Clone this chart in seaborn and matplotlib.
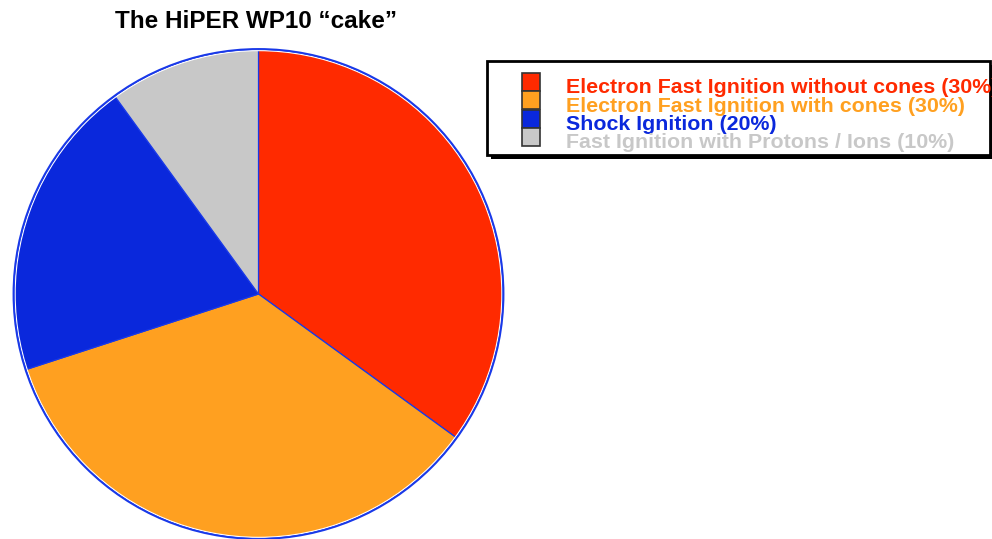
import matplotlib
matplotlib.use("Agg")
import matplotlib.pyplot as plt
import seaborn as sns
from matplotlib.patches import Rectangle, Circle
from matplotlib import font_manager

sns.set_theme(style="white")
plt.rcParams['font.family'] = ['Liberation Sans', 'DejaVu Sans']

bold_file = None
for f in font_manager.fontManager.ttflist:
    if f.name == "Liberation Sans" and f.weight in (700, "bold") and f.style == "normal":
        bold_file = f.fname
        break
if bold_file:
    def fp(size):
        return font_manager.FontProperties(fname=bold_file, size=size)
else:
    def fp(size):
        return font_manager.FontProperties(family="Liberation Sans", weight="bold", size=size)

title = "The HiPER WP10 \u201ccake\u201d"
categories = [
    "Electron Fast Ignition without cones (30%)",
    "Electron Fast Ignition with cones (30%)",
    "Shock Ignition (20%)",
    "Fast Ignition with Protons / Ions (10%)",
]
shares = [35, 35, 20, 10]
colors = ["#ff2a00", "#ffa020", "#0a28dc", "#c8c8c8"]

W, H = 992, 539
fig = plt.figure(figsize=(W / 100, H / 100), dpi=100)
fig.patch.set_facecolor("white")

# pie axes: center (258.5, 294) px, radius 246.5 px
cx, cy, r = 258.5, 294.0, 246.5
ax = fig.add_axes([(cx - r) / W, (H - cy - r) / H, 2 * r / W, 2 * r / H])
ax.pie(shares, colors=colors, startangle=90, counterclock=False, radius=1.0,
       wedgeprops=dict(edgecolor="#1838e8", linewidth=0.9))
ax.add_patch(Circle((0, 0), 0.997, fill=False, edgecolor="white", linewidth=0.8))
ax.add_patch(Circle((0, 0), 1.004, fill=False, edgecolor="#1838e8", linewidth=1.3))
ax.set_xlim(-1.01, 1.01)
ax.set_ylim(-1.01, 1.01)
ax.set_aspect("auto")
ax.axis("off")

# overlay axes in pixel coordinates
ov = fig.add_axes([0, 0, 1, 1], zorder=5)
ov.set_xlim(0, W)
ov.set_ylim(H, 0)
ov.axis("off")
ov.patch.set_alpha(0)

ov.text(256, 21, title, ha="center", va="center", fontproperties=fp(17.5),
        color="black")

# legend box with shadow
ov.add_patch(Rectangle((491, 65), 503, 94, facecolor="black", edgecolor="none", zorder=1))
ov.add_patch(Rectangle((487, 61), 503, 94, facecolor="white", edgecolor="black",
                       linewidth=2, zorder=2))

for i, (lab, col) in enumerate(zip(categories, colors)):
    y0 = 72.5 + i * 18.5
    ov.add_patch(Rectangle((522, y0), 18, 18, facecolor=col, edgecolor="#333333",
                           linewidth=1.2, zorder=3))
    ov.text(566, 93 + i * 18.5, lab, ha="left", va="baseline", fontproperties=fp(15.4),
            color=col, zorder=4)

fig.savefig("out.png", dpi=100, facecolor="white")
